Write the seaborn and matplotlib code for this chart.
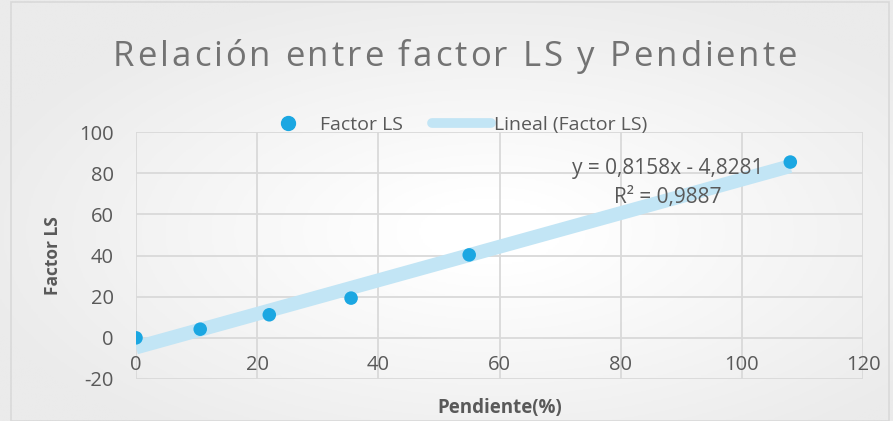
import numpy as np
import pandas as pd
import matplotlib
matplotlib.use('Agg')
import matplotlib.pyplot as plt
import matplotlib.patches as mpatches
from matplotlib.lines import Line2D
import seaborn as sns

# datos
pendiente = [0, 10.6, 22.0, 35.5, 55.0, 108.0]
factor_ls = [0, 4.2, 11.2, 19.3, 40.3, 85.4]
texto_ecuacion = "y = 0,8158x - 4,8281"
texto_r2 = "R² = 0,9887"
titulo = "Relación entre factor LS y Pendiente"
xticks = [0, 20, 40, 60, 80, 100, 120]
yticks = [-20, 0, 20, 40, 60, 80, 100]

df = pd.DataFrame({'Pendiente': pendiente, 'FactorLS': factor_ls})

sns.set_style('white')
plt.rcParams['font.family'] = ['Open Sans', 'DejaVu Sans']
plt.rcParams['axes.unicode_minus'] = False

GRIS = '#595959'
GRIS_TIT = '#737373'
AZUL = '#1BA7E2'
AZUL_CLARO = '#C2E5F5'

fig = plt.figure(figsize=(8.93, 4.21), dpi=100)
W, H = 893, 421

# fondo con degradado suave
fondo = fig.add_axes([0, 0, 1, 1], zorder=-10)
yy, xx = np.mgrid[0:1:200j, 0:1:400j]
d = np.sqrt(((xx - 0.55) / 0.8) ** 2 + ((yy - 0.45) / 0.8) ** 2)
fondo.imshow(d, cmap=matplotlib.colors.LinearSegmentedColormap.from_list(
    'g', ['#FFFFFF', '#EBEBEB']), vmin=0.1, vmax=0.75, aspect='auto',
    extent=[0, 1, 0, 1], origin='lower')
fondo.set_axis_off()
fig.patches.append(mpatches.Rectangle((11 / W, 0.0), 878 / W, 0.995,
                                      transform=fig.transFigure, fill=False,
                                      edgecolor='#D9D9D9', linewidth=1.2))

ax = fig.add_axes([136 / W, 1 - 379 / H, 727 / W, 247 / H])
ax.set_facecolor('none')

sns.regplot(data=df, x='Pendiente', y='FactorLS', ax=ax, ci=None,
            scatter=False, truncate=True,
            line_kws={'color': AZUL_CLARO, 'linewidth': 10,
                      'solid_capstyle': 'butt', 'zorder': 2})
sns.scatterplot(data=df, x='Pendiente', y='FactorLS', ax=ax, color=AZUL,
                s=95, edgecolor='none', zorder=3)

ax.set_xlim(0, 120)
ax.set_ylim(-20, 100)
ax.set_xticks(xticks)
ax.set_yticks(yticks)
ax.grid(True, color='#D9D9D9', linewidth=1.3)
ax.set_axisbelow(True)
for s in ax.spines.values():
    s.set_visible(False)
ax.spines['bottom'].set_position(('data', 0))
ax.tick_params(axis='both', length=0, labelsize=14.5, labelcolor=GRIS)
ax.tick_params(axis='x', pad=12)
ax.tick_params(axis='y', pad=16)
ax.set_xlabel('')
ax.set_ylabel('')

ax.text(87.8, 82.5, texto_ecuacion, ha='center', va='center',
        fontsize=15, color=GRIS)
ax.text(87.8, 68.4, texto_r2, ha='center', va='center',
        fontsize=15, color=GRIS)

# titulo con espaciado entre letras (como en Excel)
renderer = fig.canvas.get_renderer()


def ancho(txt):
    t = fig.text(0, 0, txt + '|', fontsize=25)
    w = t.get_window_extent(renderer).width
    t.remove()
    t = fig.text(0, 0, '|', fontsize=25)
    w -= t.get_window_extent(renderer).width
    t.remove()
    return w


x_ini, x_fin = 113, 797
espacio = (x_fin - x_ini - ancho(titulo)) / (len(titulo) - 1)
for i, ch in enumerate(titulo):
    if ch == ' ':
        continue
    x = x_ini + ancho(titulo[:i]) + i * espacio
    fig.text(x / W, 1 - 57 / H, ch, ha='left', va='center', fontsize=25,
             color=GRIS_TIT)

fig.text(53 / W, 1 - 256 / H, 'Factor LS', rotation=90, ha='center',
         va='center', fontsize=12.5, fontweight='bold', color=GRIS)
fig.text(500 / W, 1 - 408 / H, 'Pendiente(%)', ha='center',
         va='center', fontsize=13.5, fontweight='bold', color=GRIS)

handles = [Line2D([], [], marker='o', linestyle='none', color=AZUL,
                  markersize=10),
           Line2D([], [], color=AZUL_CLARO, linewidth=7)]
fig.legend(handles, ['Factor LS', 'Lineal (Factor LS)'], loc='center left',
           bbox_to_anchor=(259 / W, 1 - 125 / H), ncol=2, frameon=False,
           fontsize=14, labelcolor=GRIS, handlelength=3.0, columnspacing=1.5,
           handletextpad=0.15, borderpad=0, borderaxespad=0)

plt.savefig('out.png', dpi=100)
